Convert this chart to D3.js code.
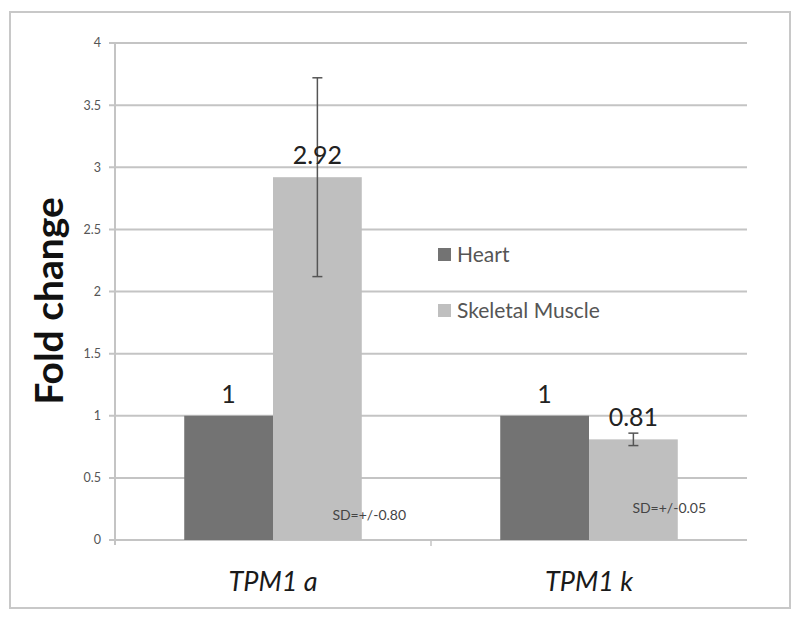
<!DOCTYPE html>
<html>
<head>
<meta charset="utf-8">
<script src="https://cdn.jsdelivr.net/npm/d3@7"></script>
<style>
  body { margin: 0; background: #fff; }
  svg { display: block; font-family: Lato, "Open Sans", sans-serif; }
</style>
</head>
<body>
<div id="chart"></div>
<script>
// data
const categories = ['TPM1 a', 'TPM1 k'];
const seriesNames = ['Heart', 'Skeletal Muscle'];
const heartValues = [1, 1];
const muscleValues = [2.92, 0.81];
const muscleSD = [0.80, 0.05];
const sdLabels = ['SD=+/-0.80', 'SD=+/-0.05'];
const valueLabels = [['1', '2.92'], ['1', '0.81']];
const yTicks = [0, 0.5, 1, 1.5, 2, 2.5, 3, 3.5, 4];

const colors = { 'Heart': '#737373', 'Skeletal Muscle': '#bfbfbf' };

const W = 800, H = 621;
const svg = d3.select('#chart').append('svg').attr('width', W).attr('height', H);

// outer frame
svg.append('rect').attr('x', 10).attr('y', 12).attr('width', 780).attr('height', 596)
  .attr('fill', '#fff').attr('stroke', '#c8c8c8').attr('stroke-width', 2);

const plot = { left: 115, right: 747, top: 43, bottom: 540 };

const y = d3.scaleLinear().domain([0, 4]).range([plot.bottom, plot.top]);
const x0 = d3.scaleBand().domain(categories).range([plot.left, plot.right]).paddingInner(0).paddingOuter(0);
const x1 = d3.scaleBand().domain(seriesNames).range([0, x0.bandwidth()]).paddingOuter(0.78).paddingInner(0);

// gridlines
svg.append('g').selectAll('line').data(yTicks).join('line')
  .attr('x1', plot.left - 6).attr('x2', plot.right)
  .attr('y1', d => y(d)).attr('y2', d => y(d))
  .attr('stroke', '#c4c4c4').attr('stroke-width', 2);

// y tick labels
svg.append('g').selectAll('text').data(yTicks).join('text')
  .attr('x', 101).attr('y', d => y(d)).attr('dy', '0.35em')
  .attr('text-anchor', 'end').attr('font-size', 12.5).attr('fill', '#555')
  .text(d => d);

// y axis line
svg.append('line').attr('x1', plot.left).attr('x2', plot.left)
  .attr('y1', plot.top).attr('y2', plot.bottom + 5)
  .attr('stroke', '#c4c4c4').attr('stroke-width', 2);

// category tick
svg.append('line').attr('x1', x0('TPM1 k')).attr('x2', x0('TPM1 k'))
  .attr('y1', plot.bottom).attr('y2', plot.bottom + 6)
  .attr('stroke', '#c4c4c4').attr('stroke-width', 1.5);

// bars
const rows = categories.map((c, i) => ({ cat: c, vals: [heartValues[i], muscleValues[i]], i }));
const groups = svg.append('g').selectAll('g').data(rows).join('g')
  .attr('transform', d => `translate(${x0(d.cat)},0)`);

groups.selectAll('rect').data(d => seriesNames.map((s, k) => ({ s, v: d.vals[k] }))).join('rect')
  .attr('x', d => x1(d.s)).attr('width', x1.bandwidth())
  .attr('y', d => y(d.v)).attr('height', d => y(0) - y(d.v))
  .attr('fill', d => colors[d.s]);

// error bars on skeletal muscle
groups.each(function(d) {
  const g = d3.select(this);
  const cx = x1('Skeletal Muscle') + x1.bandwidth() / 2;
  const v = muscleValues[d.i], sd = muscleSD[d.i];
  g.append('line').attr('x1', cx).attr('x2', cx).attr('y1', y(v + sd)).attr('y2', y(v - sd))
    .attr('stroke', '#555').attr('stroke-width', 1.5);
  [v + sd, v - sd].forEach(e => {
    g.append('line').attr('x1', cx - 5).attr('x2', cx + 5).attr('y1', y(e)).attr('y2', y(e))
      .attr('stroke', '#555').attr('stroke-width', 1.5);
  });
});

// value labels
groups.selectAll('text.val').data(d => seriesNames.map((s, k) => ({ s, v: d.vals[k], t: valueLabels[d.i][k] }))).join('text')
  .attr('class', 'val')
  .attr('x', d => x1(d.s) + x1.bandwidth() / 2)
  .attr('y', d => y(d.v) - 13)
  .attr('text-anchor', 'middle').attr('font-size', 25).attr('fill', '#222')
  .text(d => d.t);

// SD labels
groups.append('text')
  .attr('x', d => x1('Skeletal Muscle') + x1.bandwidth() / 2 + (d.i === 0 ? 15 : -1))
  .attr('y', d => d.i === 0 ? 520 : 513)
  .attr('font-size', 14).attr('fill', '#444')
  .text(d => sdLabels[d.i]);

// x labels
svg.append('g').selectAll('text').data(categories).join('text')
  .attr('x', d => x0(d) + x0.bandwidth() / 2).attr('y', 591)
  .attr('text-anchor', 'middle').attr('font-size', 27).attr('font-style', 'italic').attr('fill', '#1a1a1a')
  .text(d => d);

// y title
svg.append('text')
  .attr('transform', `translate(63,301) rotate(-90)`)
  .attr('text-anchor', 'middle').attr('font-size', 39).attr('font-weight', 'bold').attr('fill', '#111')
  .text('Fold change');

// legend
const legend = svg.append('g').selectAll('g').data(seriesNames).join('g')
  .attr('transform', (d, i) => `translate(438,${255 + i * 56})`);
legend.append('rect').attr('x', 0).attr('y', -7).attr('width', 13).attr('height', 13)
  .attr('fill', d => colors[d]);
legend.append('text').attr('x', 19).attr('y', 0).attr('dy', '0.35em')
  .attr('font-size', 21).attr('fill', '#555')
  .text(d => d);
</script>
</body>
</html>
